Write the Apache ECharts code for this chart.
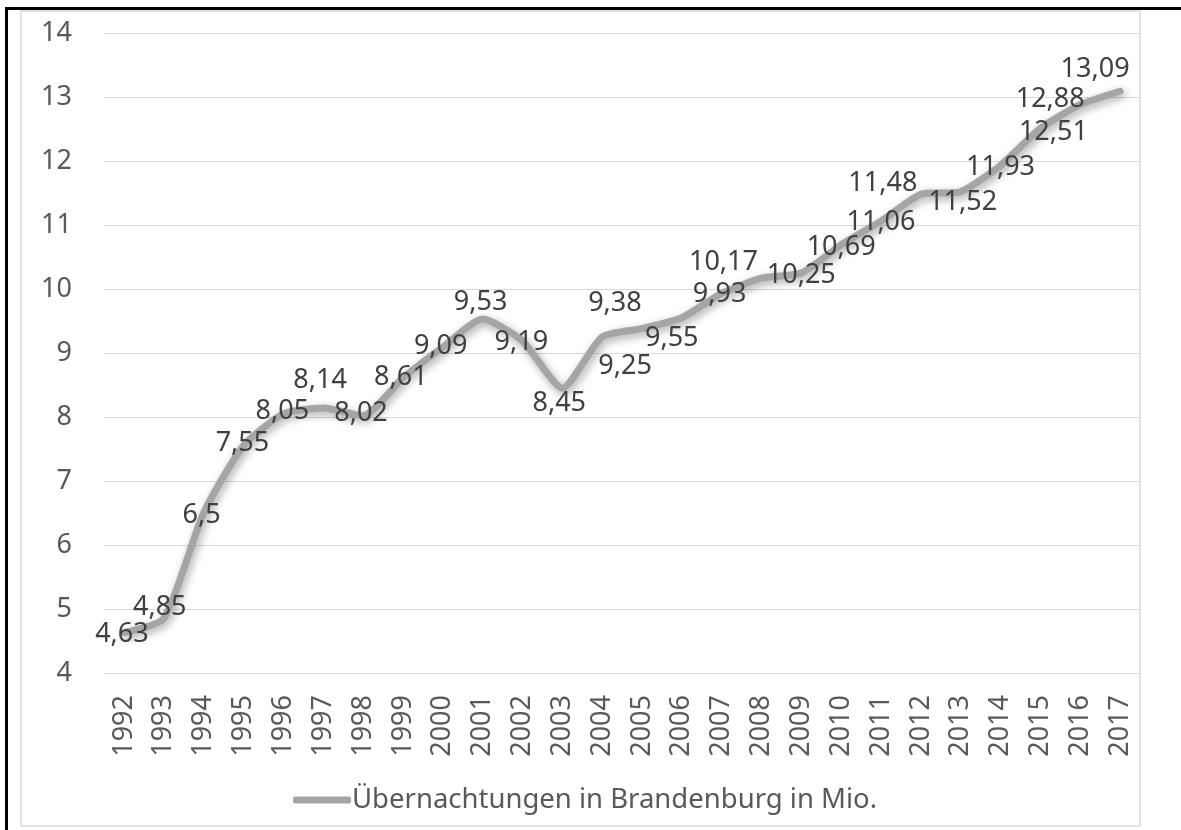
<!DOCTYPE html>
<html>
<head>
<meta charset="utf-8">
<script src="https://cdn.jsdelivr.net/npm/echarts@6/dist/echarts.min.js"></script>
<style>
  html, body { margin: 0; padding: 0; background: #fff; }
  #chart { width: 1181px; height: 830px; }
</style>
</head>
<body>
<div id="chart"></div>
<script>
// Data
const years = ['1992', '1993', '1994', '1995', '1996', '1997', '1998', '1999', '2000', '2001',
  '2002', '2003', '2004', '2005', '2006', '2007', '2008', '2009', '2010', '2011',
  '2012', '2013', '2014', '2015', '2016', '2017'];
const nights = [4.63, 4.85, 6.5, 7.55, 8.05, 8.14, 8.02, 8.61, 9.09, 9.53,
  9.19, 8.45, 9.25, 9.38, 9.55, 9.93, 10.17, 10.25, 10.69, 11.06,
  11.48, 11.52, 11.93, 12.51, 12.88, 13.09];
const seriesName = 'Übernachtungen in Brandenburg in Mio.';

// where each value label sits relative to its point (dx, dy in px)
const labelShift = [
  [-2, 2], [-4, -11], [-2, 2], [-1, -2], [-1, -2], [-3, -28], [-2, -2], [-2, -1], [-2, -1], [-2, -17],
  [-1, 1], [-3, 15], [23, 29], [-27, -25], [-10, 21], [-2, 1], [-38, -16], [0, 2], [0, 2], [0, 1],
  [-38, -11], [2, 11], [0, 2], [13, 4], [-30, -5], [-25, -22]
];

const font = 'Noto Sans';
const axisGrey = '#595959';
const gridGrey = '#d9d9d9';

const chart = echarts.init(document.getElementById('chart'));
chart.setOption({
  animation: false,
  textStyle: { fontFamily: font },
  graphic: [
    { type: 'rect', shape: { x: 21, y: 11, width: 1119, height: 815 },
      style: { fill: 'none', stroke: gridGrey, lineWidth: 1.5 }, z: -1 },
    { type: 'line', shape: { x1: 5, y1: 8.5, x2: 1181, y2: 8.5 },
      style: { stroke: '#000', lineWidth: 3 } },
    { type: 'line', shape: { x1: 6.5, y1: 7, x2: 6.5, y2: 830 },
      style: { stroke: '#000', lineWidth: 3 } }
  ],
  grid: { left: 104, right: 41, top: 33, bottom: 157, outerBoundsMode: 'none' },
  legend: {
    data: [seriesName],
    left: 293,
    top: 786,
    padding: 0,
    icon: 'roundRect',
    itemWidth: 58,
    itemHeight: 7,
    itemStyle: { color: '#a5a5a5' },
    textStyle: { fontFamily: font, fontSize: 27.5, color: axisGrey, lineHeight: 28, padding: [0, 0, 0, -4] }
  },
  xAxis: {
    type: 'category',
    data: years,
    axisLine: { lineStyle: { color: gridGrey, width: 1 } },
    axisTick: { show: false },
    axisLabel: { rotate: 90, margin: 22, color: axisGrey, fontSize: 27, fontFamily: font }
  },
  yAxis: {
    type: 'value',
    min: 4,
    max: 14,
    interval: 1,
    axisLine: { show: false },
    axisTick: { show: false },
    splitLine: { lineStyle: { color: gridGrey, width: 1 } },
    axisLabel: { margin: 32, color: axisGrey, fontSize: 27, fontFamily: font }
  },
  series: [{
    name: seriesName,
    type: 'line',
    smooth: 0.2,
    symbol: 'circle',
    symbolSize: 0,
    showSymbol: true,
    data: nights.map((v, i) => ({
      value: v,
      label: { offset: labelShift[i] }
    })),
    lineStyle: {
      color: '#a5a5a5',
      width: 7,
      cap: 'round',
      join: 'round',
      shadowBlur: 8,
      shadowColor: 'rgba(0,0,0,0.35)',
      shadowOffsetX: 2,
      shadowOffsetY: 3
    },
    itemStyle: { color: '#a5a5a5' },
    label: {
      show: true,
      position: 'inside',
      color: '#404040',
      fontSize: 27,
      fontFamily: font,
      formatter: p => String(p.value).replace('.', ',')
    }
  }]
});
</script>
</body>
</html>
